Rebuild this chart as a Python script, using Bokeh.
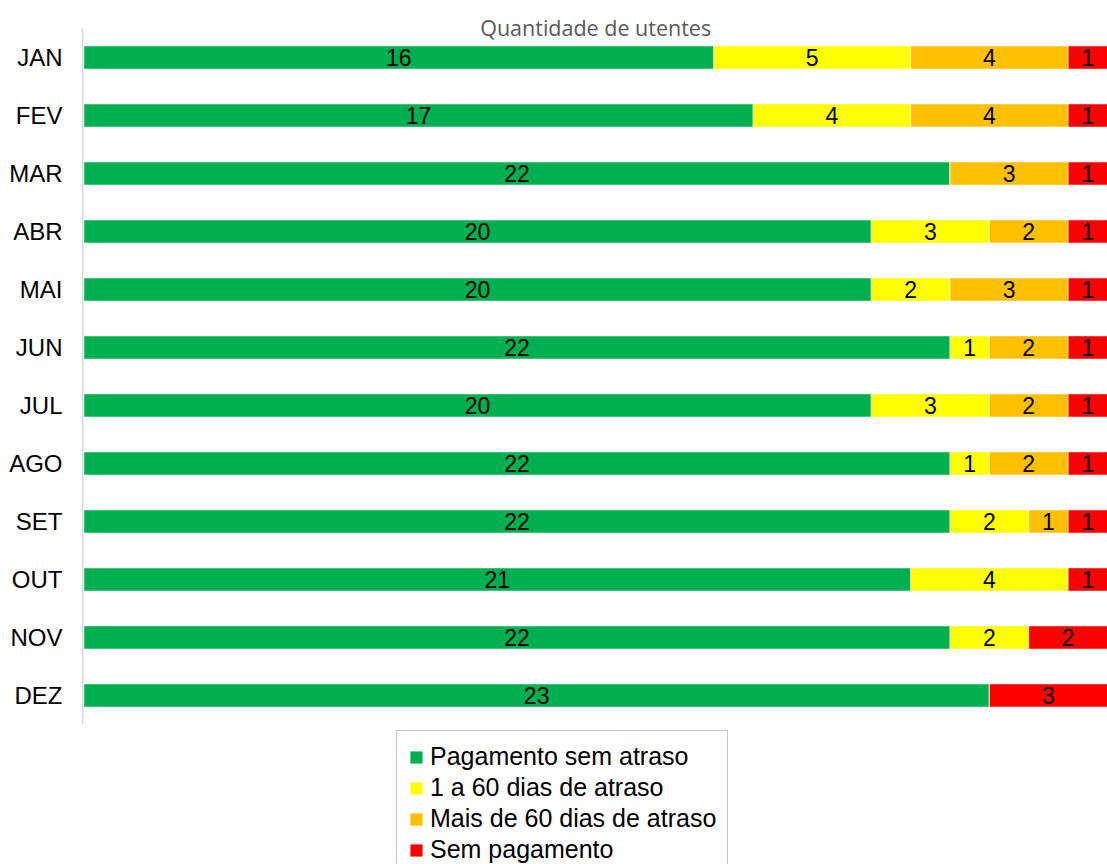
from bokeh.plotting import figure
from bokeh.models import ColumnDataSource, Label, Range1d, FixedTicker
from bokeh.core.properties import value
from bokeh.embed import file_html
from bokeh.resources import INLINE

months = ["JAN", "FEV", "MAR", "ABR", "MAI", "JUN", "JUL", "AGO", "SET", "OUT", "NOV", "DEZ"]
sem_atraso = [16, 17, 22, 20, 20, 22, 20, 22, 22, 21, 22, 23]
atraso_1_60 = [5, 4, 0, 3, 2, 1, 3, 1, 2, 4, 2, 0]
atraso_60 = [4, 4, 3, 2, 3, 2, 2, 2, 1, 0, 0, 0]
sem_pagamento = [1, 1, 1, 1, 1, 1, 1, 1, 1, 1, 2, 3]
series_names = ["Pagamento sem atraso", "1 a 60 dias de atraso", "Mais de 60 dias de atraso", "Sem pagamento"]
colors = ["#00B050", "#FFFF00", "#FFC000", "#FF0000"]
title_text = "Quantidade de utentes"

n = len(months)
keys = ["s0", "s1", "s2", "s3"]
series = [sem_atraso, atraso_1_60, atraso_60, sem_pagamento]
ypos = [n - 1 - i for i in range(n)]  # JAN at top
data = {"month": months, "y": ypos}
for k, s in zip(keys, series):
    data[k] = s
source = ColumnDataSource(data)

total = max(sum(vals) for vals in zip(*series))

p = figure(
    width=1107, height=864,
    y_range=Range1d(-2.914, 11.983),
    x_range=Range1d(-0.06, total),
    x_axis_location=None,
    output_backend="svg", toolbar_location=None,
    min_border_left=81, min_border_right=0, min_border_top=0, min_border_bottom=0,
)
p.outline_line_color = None
p.xgrid.visible = False
p.ygrid.visible = False

p.hbar_stack(keys, y="y", height=0.4, color=colors, source=source,
             line_color="white", line_width=0.6, legend_label=series_names)

# data labels
lx, ly, lt = [], [], []
for i in range(n):
    left = 0
    for s in series:
        v = s[i]
        if v > 0:
            lx.append(left + v / 2)
            ly.append(ypos[i])
            lt.append(str(v))
        left += v
lsrc = ColumnDataSource(dict(x=lx, y=ly, t=lt))
p.text(x="x", y="y", text="t", source=lsrc, text_align="center", text_baseline="middle",
       text_font=value("Liberation Sans"), text_font_size="23px", text_color="black")

# category axis line
p.segment(x0=[-0.03], y0=[-0.5], x1=[-0.03], y1=[n - 0.5], line_color="#D9D9D9", line_width=1.5)

# y axis styling
ax = p.yaxis[0]
ax.ticker = FixedTicker(ticks=ypos)
ax.major_label_overrides = {y: m for y, m in zip(ypos, months)}
ax.axis_line_color = None
ax.major_tick_line_color = None
ax.minor_tick_line_color = None
ax.major_tick_out = 0
ax.major_tick_in = 0
ax.major_label_standoff = 19
ax.major_label_text_font = "Liberation Sans"
ax.major_label_text_font_size = "24px"
ax.major_label_text_color = "black"

# title
p.add_layout(Label(x=total / 2, y=11.52, x_units="data", y_units="data", text=title_text,
                   text_align="center", text_baseline="middle",
                   text_font="Open Sans", text_font_size="21.5px", text_color="#595959"))

# legend
lg = p.legend[0]
lg.location = (315, -12)
lg.orientation = "vertical"
lg.label_text_font = "Liberation Sans"
lg.label_text_font_size = "25px"
lg.label_text_color = "black"
lg.glyph_width = 16
lg.glyph_height = 16
lg.label_standoff = 6
lg.spacing = 2
lg.padding = 11
lg.margin = 0
lg.border_line_color = "#8C8C8C"
lg.border_line_width = 1.5
lg.background_fill_alpha = 1

open("out.html", "w").write(file_html(p, INLINE))
